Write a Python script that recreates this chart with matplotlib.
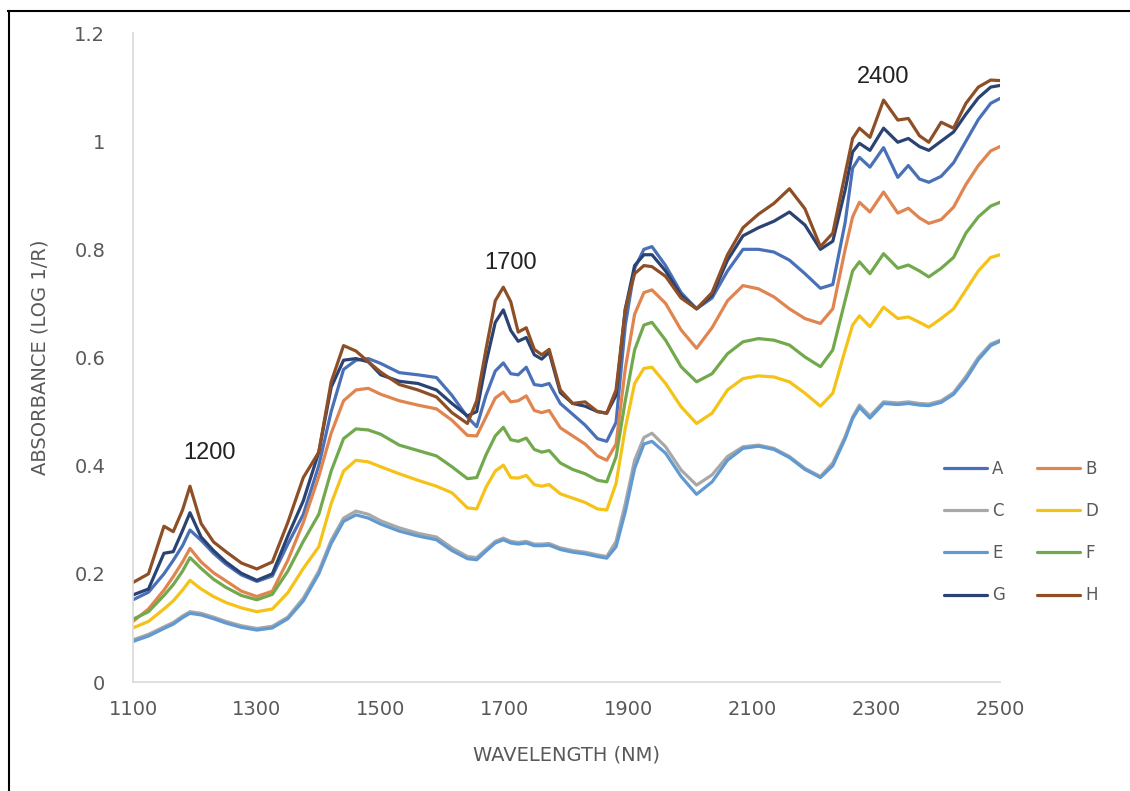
import matplotlib
matplotlib.use("Agg")
import matplotlib.pyplot as plt
from matplotlib.lines import Line2D

wavelength = [1100, 1125, 1150, 1165, 1180, 1192, 1210, 1230, 1250, 1275, 1300, 1325, 1350, 1375,
              1400, 1420, 1440, 1460, 1480, 1500, 1530, 1560, 1590, 1615, 1640, 1655, 1670, 1685,
              1698, 1710, 1722, 1735, 1748, 1760, 1772, 1790, 1810, 1830, 1850, 1865, 1880, 1895,
              1910, 1925, 1938, 1960, 1985, 2010, 2035, 2060, 2085, 2110, 2135, 2160, 2185, 2210,
              2230, 2250, 2262, 2273, 2290, 2312, 2335, 2352, 2370, 2385, 2405, 2425, 2445, 2465,
              2485, 2500]

A = [0.152, 0.166, 0.200, 0.225, 0.252, 0.281, 0.262, 0.238, 0.218, 0.198, 0.186, 0.196, 0.255, 0.310,
     0.400, 0.500, 0.578, 0.595, 0.598, 0.589, 0.572, 0.568, 0.563, 0.530, 0.490, 0.472, 0.530, 0.575,
     0.590, 0.570, 0.568, 0.582, 0.550, 0.548, 0.552, 0.515, 0.495, 0.475, 0.450, 0.445, 0.480, 0.660,
     0.765, 0.800, 0.805, 0.770, 0.720, 0.690, 0.710, 0.760, 0.800, 0.800, 0.795, 0.780, 0.755, 0.728,
     0.735, 0.850, 0.950, 0.970, 0.952, 0.988, 0.933, 0.955, 0.930, 0.924, 0.935, 0.960, 1.000, 1.040,
     1.070, 1.079]

B = [0.112, 0.135, 0.170, 0.195, 0.222, 0.247, 0.222, 0.202, 0.187, 0.168, 0.158, 0.168, 0.225, 0.295,
     0.380, 0.460, 0.520, 0.540, 0.543, 0.532, 0.520, 0.512, 0.505, 0.484, 0.456, 0.455, 0.490, 0.525,
     0.536, 0.518, 0.520, 0.529, 0.502, 0.498, 0.502, 0.470, 0.455, 0.440, 0.418, 0.410, 0.440, 0.580,
     0.680, 0.720, 0.725, 0.700, 0.651, 0.617, 0.655, 0.705, 0.733, 0.727, 0.712, 0.690, 0.672, 0.663,
     0.690, 0.800, 0.860, 0.887, 0.869, 0.906, 0.867, 0.876, 0.858, 0.848, 0.855, 0.878, 0.920, 0.955,
     0.982, 0.990]

C = [0.078, 0.088, 0.102, 0.110, 0.122, 0.130, 0.127, 0.120, 0.112, 0.104, 0.099, 0.103, 0.120, 0.155,
     0.205, 0.262, 0.303, 0.316, 0.310, 0.298, 0.285, 0.275, 0.268, 0.248, 0.232, 0.230, 0.245, 0.260,
     0.266, 0.260, 0.258, 0.260, 0.255, 0.255, 0.256, 0.248, 0.243, 0.240, 0.235, 0.232, 0.260, 0.330,
     0.410, 0.452, 0.460, 0.435, 0.392, 0.364, 0.383, 0.417, 0.435, 0.438, 0.432, 0.417, 0.395, 0.380,
     0.405, 0.454, 0.490, 0.512, 0.492, 0.518, 0.516, 0.518, 0.515, 0.514, 0.520, 0.535, 0.565, 0.600,
     0.625, 0.632]

D = [0.100, 0.112, 0.135, 0.150, 0.170, 0.188, 0.172, 0.158, 0.147, 0.137, 0.130, 0.135, 0.165, 0.210,
     0.250, 0.330, 0.390, 0.410, 0.407, 0.398, 0.385, 0.373, 0.362, 0.350, 0.322, 0.320, 0.360, 0.390,
     0.401, 0.378, 0.377, 0.382, 0.365, 0.362, 0.365, 0.348, 0.340, 0.332, 0.320, 0.318, 0.367, 0.470,
     0.552, 0.580, 0.582, 0.552, 0.509, 0.478, 0.497, 0.540, 0.561, 0.566, 0.564, 0.555, 0.534, 0.510,
     0.534, 0.614, 0.660, 0.677, 0.657, 0.693, 0.672, 0.675, 0.665, 0.656, 0.672, 0.690, 0.725, 0.760,
     0.785, 0.790]

E = [0.075, 0.085, 0.099, 0.107, 0.119, 0.127, 0.124, 0.117, 0.109, 0.101, 0.096, 0.100, 0.117, 0.150,
     0.200, 0.256, 0.297, 0.309, 0.303, 0.292, 0.279, 0.270, 0.263, 0.243, 0.228, 0.226, 0.242, 0.257,
     0.263, 0.257, 0.255, 0.257, 0.252, 0.252, 0.253, 0.245, 0.240, 0.237, 0.232, 0.229, 0.250, 0.315,
     0.395, 0.440, 0.445, 0.423, 0.380, 0.347, 0.370, 0.410, 0.432, 0.436, 0.430, 0.415, 0.393, 0.378,
     0.400, 0.450, 0.487, 0.508, 0.488, 0.515, 0.513, 0.515, 0.512, 0.511, 0.517, 0.532, 0.560, 0.596,
     0.622, 0.630]

F = [0.116, 0.130, 0.160, 0.180, 0.205, 0.230, 0.210, 0.190, 0.175, 0.160, 0.152, 0.162, 0.205, 0.260,
     0.310, 0.390, 0.450, 0.468, 0.466, 0.458, 0.438, 0.428, 0.418, 0.398, 0.376, 0.378, 0.420, 0.455,
     0.471, 0.448, 0.445, 0.451, 0.430, 0.425, 0.428, 0.405, 0.393, 0.385, 0.373, 0.370, 0.416, 0.521,
     0.614, 0.660, 0.665, 0.632, 0.583, 0.555, 0.570, 0.607, 0.629, 0.635, 0.632, 0.623, 0.601, 0.583,
     0.614, 0.706, 0.760, 0.777, 0.755, 0.792, 0.765, 0.771, 0.760, 0.749, 0.765, 0.785, 0.830, 0.860,
     0.880, 0.887]

G = [0.161, 0.172, 0.238, 0.241, 0.280, 0.313, 0.268, 0.243, 0.222, 0.201, 0.188, 0.200, 0.270, 0.335,
     0.425, 0.545, 0.595, 0.598, 0.592, 0.568, 0.556, 0.552, 0.540, 0.515, 0.492, 0.500, 0.590, 0.665,
     0.688, 0.650, 0.630, 0.637, 0.605, 0.597, 0.610, 0.535, 0.515, 0.510, 0.500, 0.497, 0.530, 0.690,
     0.770, 0.790, 0.790, 0.760, 0.715, 0.690, 0.715, 0.780, 0.825, 0.840, 0.852, 0.869, 0.845, 0.800,
     0.815, 0.910, 0.980, 0.996, 0.983, 1.024, 0.998, 1.005, 0.990, 0.983, 1.000, 1.017, 1.050, 1.080,
     1.100, 1.103]

H = [0.184, 0.200, 0.288, 0.278, 0.318, 0.362, 0.293, 0.259, 0.241, 0.220, 0.209, 0.222, 0.295, 0.378,
     0.425, 0.555, 0.622, 0.612, 0.592, 0.573, 0.550, 0.540, 0.527, 0.498, 0.478, 0.520, 0.615, 0.705,
     0.730, 0.703, 0.647, 0.655, 0.615, 0.605, 0.615, 0.540, 0.515, 0.518, 0.500, 0.497, 0.540, 0.690,
     0.755, 0.770, 0.768, 0.750, 0.710, 0.690, 0.720, 0.790, 0.840, 0.865, 0.885, 0.912, 0.875, 0.805,
     0.830, 0.940, 1.005, 1.024, 1.007, 1.076, 1.039, 1.042, 1.010, 0.998, 1.035, 1.024, 1.070, 1.100,
     1.113, 1.112]

series_names = ["A", "B", "C", "D", "E", "F", "G", "H"]
series_values = [A, B, C, D, E, F, G, H]
colors = ["#4a70b8", "#e08550", "#a8a8a8", "#f5c218", "#6199d0", "#72a94d", "#2a4373", "#8e4f26"]

x_ticks = [1100, 1300, 1500, 1700, 1900, 2100, 2300, 2500]
y_ticks = [0, 0.2, 0.4, 0.6, 0.8, 1.0, 1.2]
y_tick_labels = ["0", "0.2", "0.4", "0.6", "0.8", "1", "1.2"]
peak_labels = [("1200", 1224, 0.423), ("1700", 1709, 0.775), ("2400", 2312, 1.118)]

W, Hh = 1130, 791
fig = plt.figure(figsize=(W / 100, Hh / 100), dpi=100)
ax = fig.add_axes([133 / W, 1 - 682 / Hh, (1000 - 133) / W, (682 - 33) / Hh])

lines = {}
for name, vals, col in zip(series_names, series_values, colors):
    ln, = ax.plot(wavelength, vals, color=col, lw=2.3, solid_capstyle="round",
                  solid_joinstyle="round", label=name)
    lines[name] = ln

ax.set_xlim(1100, 2500)
ax.set_ylim(0, 1.2)
ax.set_xticks(x_ticks)
ax.set_yticks(y_ticks)
ax.set_yticklabels(y_tick_labels)
for s in ["top", "right"]:
    ax.spines[s].set_visible(False)
for s in ["left", "bottom"]:
    ax.spines[s].set_color("#d9d9d9")
    ax.spines[s].set_linewidth(1.2)
ax.tick_params(length=0, labelsize=14, labelcolor="#595959")
ax.tick_params(axis="y", pad=20)
ax.tick_params(axis="x", pad=13)
ax.set_xlabel("WAVELENGTH (NM)", fontsize=14, color="#595959", labelpad=19)
ax.set_ylabel("ABSORBANCE (LOG 1/R)", fontsize=14, color="#595959", labelpad=18)

for txt, xv, yv in peak_labels:
    ax.text(xv, yv, txt, fontsize=17, color="#222222", ha="center", va="center",
            family="Liberation Sans")

order = ["A", "C", "E", "G", "B", "D", "F", "H"]
leg = fig.legend([lines[n] for n in order], order, ncol=2, loc="upper left",
                 bbox_to_anchor=(944 / W, 1 - 460 / Hh), frameon=False, fontsize=12,
                 handlelength=2.6, handletextpad=0.3, labelspacing=1.45, columnspacing=1.9,
                 borderpad=0, borderaxespad=0)
for t in leg.get_texts():
    t.set_color("#595959")

fig.add_artist(Line2D([8 / W, 1], [1 - 11 / Hh, 1 - 11 / Hh], color="black", lw=1.5,
                      transform=fig.transFigure))
fig.add_artist(Line2D([9 / W, 9 / W], [0, 1 - 11 / Hh], color="black", lw=1.5,
                      transform=fig.transFigure))

fig.savefig("out.png", dpi=100, facecolor="white")
